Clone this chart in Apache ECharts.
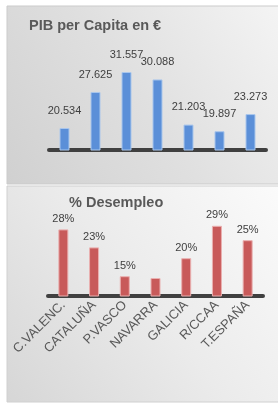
<!DOCTYPE html>
<html><head><meta charset="utf-8">
<script src="https://cdn.jsdelivr.net/npm/echarts@6/dist/echarts.min.js"></script>
<style>html,body{margin:0;padding:0;background:#fff}#c{width:278px;height:403px}</style>
</head><body><div id="c"></div>
<script>
var categories = ['C.VALENC.', 'CATALUÑA', 'P.VASCO', 'NAVARRA', 'GALICIA', 'R/CCAA', 'T.ESPAÑA'];
var pibValues = [20534, 27625, 31557, 30088, 21203, 19897, 23273];
var paroValues = [28, 23, 15, 14.5, 20, 29, 25];
var paroHiddenLabels = ['NAVARRA'];
var titles = ['PIB per Capita en €', '% Desempleo'];

function fmtThousands(v) {
  var s = String(Math.round(v));
  return s.replace(/\B(?=(\d{3})+(?!\d))/g, '.');
}
var FONT = '"Liberation Sans", Arial, sans-serif';
var chart = echarts.init(document.getElementById('c'), null, {renderer: 'canvas'});
var paroData = paroValues.map(function (v, i) {
  var item = {value: v};
  if (paroHiddenLabels.indexOf(categories[i]) >= 0) item.label = {show: false};
  return item;
});
chart.setOption({
  backgroundColor: '#ffffff',
  animation: false,
  graphic: [
    {type: 'rect', z: -10, shape: {x: 7, y: 6, width: 272, height: 178},
     style: {fill: new echarts.graphic.LinearGradient(1, 0, 0, 1, [
       {offset: 0, color: '#f4f4f4'}, {offset: 0.5, color: '#e0e0e0'}, {offset: 1, color: '#d0d0d0'}]),
       stroke: '#cbcbcb', lineWidth: 1}},
    {type: 'rect', z: -10, shape: {x: 7, y: 186, width: 272, height: 216},
     style: {fill: new echarts.graphic.LinearGradient(1, 0, 0, 1, [
       {offset: 0, color: '#fbfbfb'}, {offset: 0.5, color: '#ebebeb'}, {offset: 1, color: '#d6d6d6'}]),
       stroke: '#d0d0d0', lineWidth: 1}}
  ],
  title: [
    {text: titles[0], left: 29, top: 18, padding: 0,
     textStyle: {fontFamily: FONT, fontSize: 14.5, fontWeight: 'bold', color: '#595959'}},
    {text: titles[1], left: 69, top: 195, padding: 0,
     textStyle: {fontFamily: FONT, fontSize: 14.5, fontWeight: 'bold', color: '#595959'}}
  ],
  grid: [
    {left: 49, right: 12, top: 59.6, height: 90.4},
    {left: 48, right: 15, top: 215, height: 81}
  ],
  xAxis: [
    {type: 'category', gridIndex: 0, data: categories,
     axisLine: {lineStyle: {color: '#404040', width: 4}},
     axisTick: {show: false}, axisLabel: {show: false}},
    {type: 'category', gridIndex: 1, data: categories,
     axisLine: {lineStyle: {color: '#404040', width: 4}},
     axisTick: {show: false},
     axisLabel: {rotate: 45, margin: 7, interval: 0, fontFamily: FONT, fontSize: 13, color: '#595959'}}
  ],
  yAxis: [
    {type: 'value', gridIndex: 0, min: 16200, max: 34000, show: false, splitLine: {show: false}},
    {type: 'value', gridIndex: 1, min: 9.5, max: 32, show: false, splitLine: {show: false}}
  ],
  series: [
    {type: 'bar', xAxisIndex: 0, yAxisIndex: 0, data: pibValues, barWidth: 10,
     itemStyle: {color: '#5b8fd8', borderColor: '#a9c6ec', borderWidth: 1},
     label: {show: true, position: 'top', distance: 12, fontFamily: FONT, fontSize: 11, color: '#404040',
       formatter: function (p) { return fmtThousands(p.value); }}},
    {type: 'bar', xAxisIndex: 1, yAxisIndex: 1, data: paroData, barWidth: 10,
     itemStyle: {color: '#c85a5a', borderColor: '#eab0b0', borderWidth: 1},
     label: {show: true, position: 'top', distance: 5, fontFamily: FONT, fontSize: 11, color: '#404040',
       formatter: function (p) { return Math.round(p.value) + '%'; }}}
  ]
});
</script></body></html>
